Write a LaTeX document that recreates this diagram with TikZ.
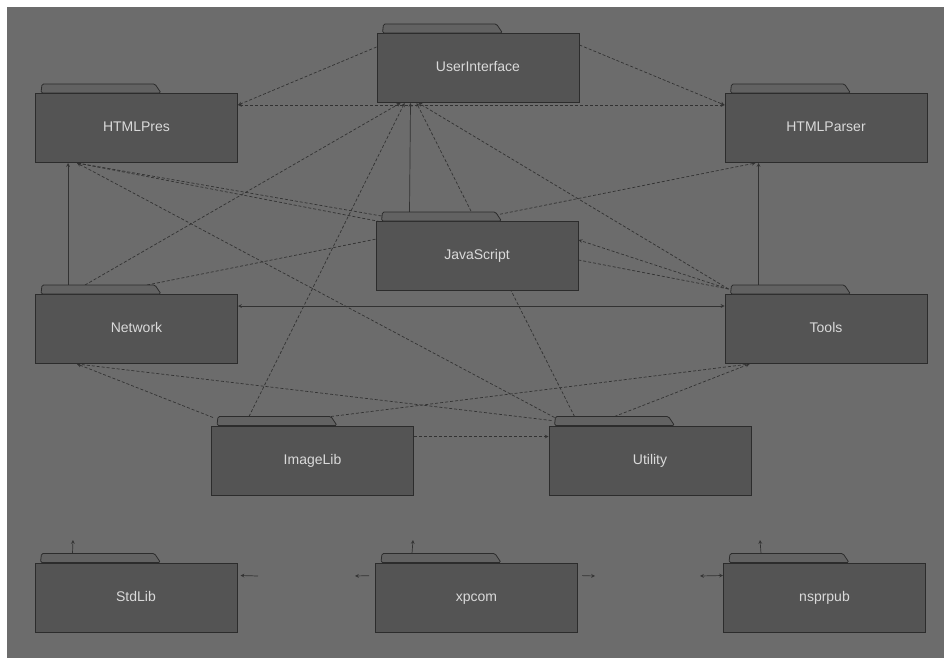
\documentclass[tikz,border=0pt]{standalone}
\usepackage{fontspec}
\setsansfont{Liberation Sans}
\usepackage{xcolor}
\usetikzlibrary{arrows}

\definecolor{bggray}{RGB}{108,108,108}
\definecolor{boxgray}{RGB}{84,84,84}
\definecolor{edgegray}{RGB}{44,44,44}
\definecolor{txtgray}{RGB}{218,218,218}
\definecolor{linegray}{RGB}{50,50,50}

\pgfdeclarelayer{bg}
\pgfdeclarelayer{wires}
\pgfsetlayers{bg,wires,main}

\tikzset{
	pkg/.style={draw=edgegray, fill=boxgray, line width=1pt, minimum width=202pt, minimum height=69pt, inner sep=0pt, text=txtgray, text height=10pt, text depth=3pt, font=\sffamily\fontsize{14}{16}\selectfont},
	pkgtab/.style={draw=edgegray, fill=boxgray!92!white, line width=0.8pt, rounded corners=1.5pt},
	dep/.style={->, densely dashed, line width=0.7pt, draw=linegray},
	solidep/.style={->, line width=0.7pt, draw=linegray}
}

\begin{document}
\begin{tikzpicture}[x=1pt,y=-1pt,>=stealth]
\useasboundingbox (0,0) rectangle (944,658);
\begin{pgfonlayer}{bg}
	\fill[white] (0,0) rectangle (944,658);
	\fill[bggray] (7,7) rectangle (944,658);
\end{pgfonlayer}

	\node[pkg] (ui) at (478,68) {UserInterface};
	\node[pkg] (pres) at (136.5,128) {HTMLPres};
	\node[pkg] (parser) at (826,128) {HTMLParser};
	\node[pkg] (js) at (477,256) {JavaScript};
	\node[pkg] (net) at (136.5,329) {Network};
	\node[pkg] (tools) at (826,329) {Tools};
	\node[pkg] (img) at (312.5,460.5) {ImageLib};
	\node[pkg] (util) at (650,460.5) {Utility};
	\node[pkg] (std) at (136,597.5) {StdLib};
	\node[pkg] (xpcom) at (476.5,597.5) {xpcom};
	\node[pkg] (nspr) at (824.5,597.5) {nsprpub};

\foreach \p in {ui,pres,parser,js,net,tools,img,util,std,xpcom,nspr}{
	\filldraw[pkgtab] ([xshift=6pt]\p.north west) -- ([xshift=7pt,yshift=9pt]\p.north west) -- ([xshift=120pt,yshift=9pt]\p.north west) -- ([xshift=126pt]\p.north west) -- cycle;
}

\begin{pgfonlayer}{wires}
	% top row
	\draw[dep] ([yshift=-14pt]ui.north west) -- ([yshift=-12pt]pres.north east);
	\draw[dep] ([yshift=-12pt]ui.north east) -- ([yshift=-12pt]parser.north west);
	\draw[dep,<->] ([yshift=-12pt]pres.north east) -- ([yshift=-12pt]parser.north west);
	% into UserInterface
	\draw[solidep] ([xshift=34pt,yshift=9pt]js.north west) -- ([xshift=34pt]ui.south west);
	\draw[dep] ([xshift=50pt,yshift=9pt]net.north west) -- ([xshift=24pt]ui.south west);
	\draw[dep] ([xshift=38pt,yshift=9pt]img.north west) -- ([xshift=28pt]ui.south west);
	\draw[dep] ([xshift=4pt,yshift=5pt]tools.north west) -- ([xshift=42pt]ui.south west);
	\draw[dep] ([xshift=26pt,yshift=9pt]util.north west) -- ([xshift=40pt]ui.south west);
	% into HTMLParser and HTMLPres
	\draw[dep] ([xshift=112pt,yshift=9pt]net.north west) -- ([xshift=31pt]parser.south west);
	\draw[solidep] ([xshift=34pt,yshift=9pt]tools.north west) -- ([xshift=34pt]parser.south west);
	\draw[solidep] ([xshift=33pt,yshift=9pt]net.north west) -- ([xshift=33pt]pres.south west);
	\draw[dep] ([xshift=6pt,yshift=5pt]js.north west) -- ([xshift=42pt]pres.south west);
	\draw[dep] ([xshift=4pt,yshift=5pt]tools.north west) -- ([xshift=42pt]pres.south west);
	\draw[dep] ([xshift=6pt,yshift=8pt]util.north west) -- ([xshift=42pt]pres.south west);
	% middle
	\draw[dep] ([xshift=4pt,yshift=5pt]tools.north west) -- ([yshift=-19pt]js.north east);
	\draw[solidep,<->] ([yshift=-12pt]net.north east) -- ([yshift=-12pt]tools.north west);
	\draw[dep] ([xshift=2pt,yshift=8pt]img.north west) -- ([xshift=42pt]net.south west);
	\draw[dep] ([xshift=3pt,yshift=5pt]util.north west) -- ([xshift=42pt]net.south west);
	\draw[dep] ([xshift=66pt,yshift=9pt]util.north west) -- ([xshift=25pt]tools.south west);
	\draw[dep] ([xshift=120pt,yshift=9pt]img.north west) -- ([xshift=25pt]tools.south west);
	\draw[dep] ([yshift=-11pt]img.north east) -- ([yshift=-11pt]util.north west);
	% cut-off stubs in the bottom row
	\coordinate (stdR) at (258,576);
	\coordinate (xpL) at (355,576);
	\coordinate (xpR) at (595,576);
	\coordinate (nsL) at (700,576);
	\coordinate (stdT) at (73,540);
	\coordinate (xpT) at (413,540);
	\coordinate (nsT) at (760,540);
	\draw[solidep] (stdR) -- ([xshift=3pt,yshift=-13pt]std.north east);
	\draw[solidep,shorten <=6pt] ([yshift=-13pt]xpcom.north west) -- (xpL);
	\draw[solidep,shorten <=4pt] ([yshift=-13pt]xpcom.north east) -- (xpR);
	\draw[solidep,<->] (nsL) -- ([yshift=-13pt]nspr.north west);
	\draw[solidep] ([xshift=38pt,yshift=9pt]std.north west) -- (stdT);
	\draw[solidep] ([xshift=37pt,yshift=9pt]xpcom.north west) -- (xpT);
	\draw[solidep] ([xshift=38pt,yshift=9pt]nspr.north west) -- (nsT);
\end{pgfonlayer}
\end{tikzpicture}
\end{document}
